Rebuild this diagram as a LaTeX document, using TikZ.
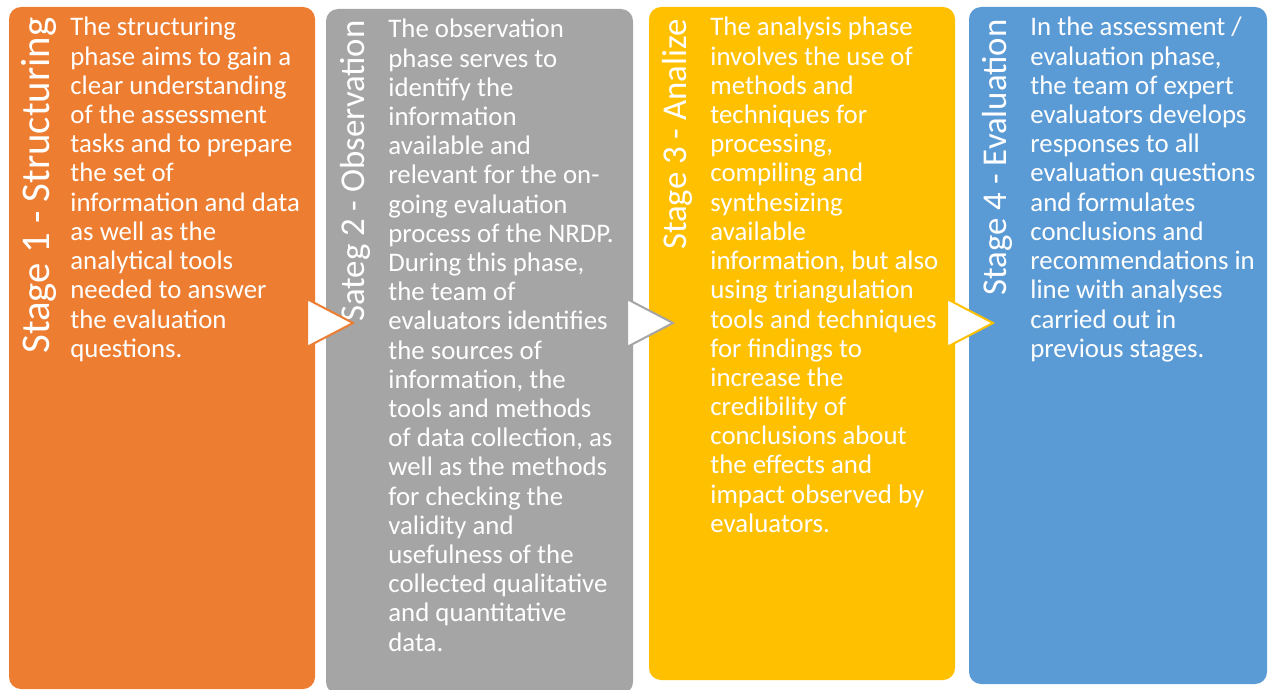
\documentclass[tikz,border=0pt]{standalone}
\usepackage{fontspec}
\setmainfont{Carlito}
\definecolor{stOrange}{HTML}{ED7D31}
\definecolor{stGray}{HTML}{A5A5A5}
\definecolor{stGold}{HTML}{FFC000}
\definecolor{stBlue}{HTML}{5B9BD5}
\begin{document}
\begin{tikzpicture}[x=0.5pt,y=-0.5pt,
  stagebox/.style={rounded corners=6pt},
  stagetitle/.style={rotate=90, anchor=base east, inner sep=0pt, text=white,
    font=\fontsize{17.4}{21}\selectfont},
  bigtitle/.style={stagetitle, font=\fontsize{20.4}{24}\selectfont},
  stagebody/.style={anchor=base west, inner sep=0pt, text=white,
    font=\fontsize{13.4}{14.6}\selectfont},
  flow/.style={fill=white, line width=1pt, line join=miter}]
\useasboundingbox (0,0) rectangle (1268,690);

% stage panels
\fill[stOrange, stagebox] (9,7) rectangle (315,689);
\fill[stGray, stagebox] (326,9) rectangle (633,694);
\fill[stGold, stagebox] (649,7) rectangle (955,680);
\fill[stBlue, stagebox] (969,7) rectangle (1267,684);

% vertical stage titles
\node[bigtitle] (t1) at (49,17) {Stage 1 - Structuring};
\node[stagetitle] (t2) at (364,20) {Sateg 2 - Observation};
\node[stagetitle] (t3) at (686,19) {Stage 3 - Analize};
\node[stagetitle] (t4) at (1006,19) {Stage 4 - Evaluation};

% stage descriptions
\node[stagebody] (b1) at (70,36) {\parbox[t]{200pt}{\raggedright
The structuring\\
phase aims to gain a\\
clear understanding\\
of the assessment\\
tasks and to prepare\\
the set of\\
information and data\\
as well as the\\
analytical tools\\
needed to answer\\
the evaluation\\
questions.}};

\node[stagebody] (b2) at (388,38) {\parbox[t]{200pt}{\raggedright
The observation\\
phase serves to\\
identify the\\
information\\
available and\\
relevant for the on-\\
going evaluation\\
process of the NRDP.\\
During this phase,\\
the team of\\
evaluators identifies\\
the sources of\\
information, the\\
tools and methods\\
of data collection, as\\
well as the methods\\
for checking the\\
validity and\\
usefulness of the\\
collected qualitative\\
and quantitative\\
data.}};

\node[stagebody] (b3) at (710,36) {\parbox[t]{200pt}{\raggedright
The analysis phase\\
involves the use of\\
methods and\\
techniques for\\
processing,\\
compiling and\\
synthesizing\\
available\\
information, but also\\
using triangulation\\
tools and techniques\\
for findings to\\
increase the\\
credibility of\\
conclusions about\\
the effects and\\
impact observed by\\
evaluators.}};

\node[stagebody] (b4) at (1030,36) {\parbox[t]{200pt}{\raggedright
In the assessment /\\
evaluation phase,\\
the team of expert\\
evaluators develops\\
responses to all\\
evaluation questions\\
and formulates\\
conclusions and\\
recommendations in\\
line with analyses\\
carried out in\\
previous stages.}};

% flow arrows between stages
\draw[flow, draw=stOrange] (307,299) -- (353,323) -- (307,347) -- cycle;
\draw[flow, draw=stGray] (627,299) -- (673,323) -- (627,347) -- cycle;
\draw[flow, draw=stGold] (947,299) -- (993,323) -- (947,347) -- cycle;
\end{tikzpicture}
\end{document}
